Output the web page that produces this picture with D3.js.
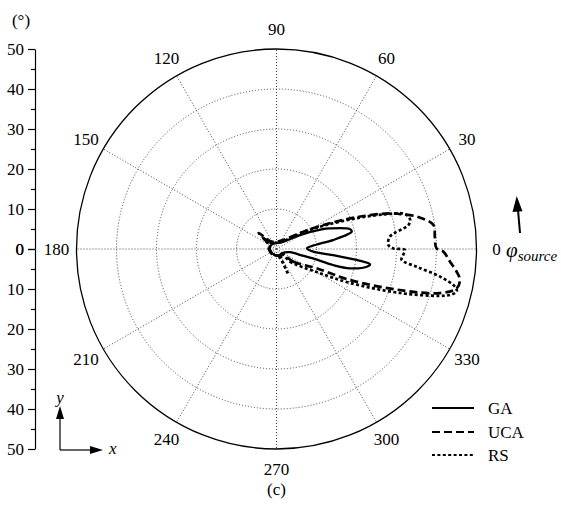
<!DOCTYPE html>
<html>
<head>
<meta charset="utf-8">
<script src="https://cdn.jsdelivr.net/npm/d3@7"></script>
<style>
  html, body { margin: 0; padding: 0; background: #fff; }
  svg { display: block; }
  svg text { font-family: "Liberation Serif", "Times New Roman", serif; fill: #000; }
</style>
</head>
<body>
<svg id="chart" width="561" height="506"></svg>
<script>
// Polar pattern: angle phi in degrees (counter-clockwise from the source direction), radius in degrees
const gaPhi = [-40, -13, -14, -14.5, -15.8, -14.7, -11.1, -9.3, -7.8, -6.1, -4.2, 1.3, 5.9, 9, 13, 15.2, 21.1, 23.5, 30.8, 43, 70, 110, 150, 190, 230, 270, 300];
const gaR   = [1.7, 3.5, 6, 9.4, 14.7, 19, 23, 23.7, 20.2, 14.2, 9.2, 7.6, 9.7, 14.3, 19.3, 19, 14.3, 12.3, 6.8, 2.9, 1.6, 1.5, 1.7, 1.6, 1.5, 1.6, 1.7];

const ucaPhi = [-41, -37, -25.6, -22.9, -18.4, -15.1, -12.3, -9.6, -7.2, -4.2, -0.9, 0.25, 4.4, 8.7, 13, 15.8, 17.5, 21.6, 27.1, 32.8, 53, 80, 110, 128, 138, 148, 180, 215, 250, 285];
const ucaR   = [2.3, 5.3, 11.1, 19.9, 32.5, 42.3, 46.1, 46.5, 45.4, 43.5, 41.7, 40, 39.7, 39.7, 36, 32.1, 29.7, 21.6, 13.2, 8, 2.8, 1.9, 1.9, 2.5, 6, 2.5, 1.9, 1.7, 1.8, 1.7];

const rsPhi = [-40, -43, -29.8, -24.8, -19.6, -16, -14.8, -13.3, -11.9, -9.6, -7.2, -5, -2.7, -0.4, 0.3, 2, 6.2, 10.3, 12.3, 15.2, 17.5, 21, 26, 32, 50, 80, 110, 130, 140, 150, 180, 220, 260, 288, 295, 302];
const rsR   = [1.8, 4.6, 11.6, 20.2, 32.8, 42.5, 44.9, 46.3, 45.6, 41.5, 35.3, 31.4, 31.7, 32.1, 29.2, 28, 28.5, 33.5, 34.2, 33.3, 29, 21.5, 13.5, 8, 2.5, 1.6, 1.7, 2, 4.5, 2, 1.7, 1.6, 1.6, 2, 7, 2];

const seriesNames = ["GA", "UCA", "RS"];
const ringValues = [10, 20, 30, 40];
const angleTicks = [0, 30, 60, 90, 120, 150, 180, 210, 240, 270, 300, 330];
const axisMajor = [0, 10, 20, 30, 40, 50];
const axisMinor = [5, 15, 25, 35, 45];

const FONT = "Liberation Serif, Times New Roman, serif";
const svg = d3.select("#chart");
const cx = 276.5, cy = 249, R = 200;
const rMax = 50;
const r = d3.scaleLinear().domain([0, rMax]).range([0, R]);
const rad = d => d * Math.PI / 180;

const plot = svg.append("g").attr("transform", `translate(${cx},${cy})`);

// dotted rings
plot.selectAll("circle.ring").data(ringValues).join("circle")
  .attr("class", "ring")
  .attr("r", d => r(d))
  .attr("fill", "none")
  .attr("stroke", "#444")
  .attr("stroke-width", 1)
  .attr("stroke-dasharray", "1,2");

// dotted spokes
plot.selectAll("line.spoke").data(angleTicks).join("line")
  .attr("class", "spoke")
  .attr("x1", 0).attr("y1", 0)
  .attr("x2", d => r(rMax) * Math.cos(rad(d)))
  .attr("y2", d => -r(rMax) * Math.sin(rad(d)))
  .attr("stroke", "#444")
  .attr("stroke-width", 1)
  .attr("stroke-dasharray", "1,2");

// outer boundary
plot.append("circle").attr("r", r(rMax))
  .attr("fill", "none").attr("stroke", "#000").attr("stroke-width", 1.3);

// angle labels
plot.selectAll("text.ang").data(angleTicks).join("text")
  .attr("class", "ang")
  .attr("x", d => 220 * Math.cos(rad(d)))
  .attr("y", d => -220 * Math.sin(rad(d)))
  .attr("text-anchor", "middle")
  .attr("dominant-baseline", "central")
  .attr("font-family", FONT)
  .attr("font-size", 17)
  .text(d => d);

// curves
const radial = d3.lineRadial()
  .angle(d => rad(90 - d[0]))
  .radius(d => r(d[1]))
  .curve(d3.curveCatmullRomClosed.alpha(0.5));

const series = [
  { name: seriesNames[0], pts: d3.zip(gaPhi, gaR), dash: null, width: 2.3 },
  { name: seriesNames[1], pts: d3.zip(ucaPhi, ucaR), dash: "8,4", width: 2.7 },
  { name: seriesNames[2], pts: d3.zip(rsPhi, rsR), dash: "3,2.4", width: 2.7 }
];

plot.selectAll("path.series").data(series).join("path")
  .attr("class", "series")
  .attr("d", d => radial(d.pts))
  .attr("fill", "none")
  .attr("stroke", "#000")
  .attr("stroke-width", d => d.width)
  .attr("stroke-dasharray", d => d.dash)
  .attr("stroke-linejoin", "round");

// left elevation axis (0 at centre, 50 at both ends)
const yTop = d3.scaleLinear().domain([0, rMax]).range([cy, cy - R]);
const yBot = d3.scaleLinear().domain([0, rMax]).range([cy, cy + R]);
const axX = 35;
[yTop, yBot].forEach(sc => {
  svg.append("g").attr("transform", `translate(${axX},0)`)
    .call(d3.axisLeft(sc).tickValues(axisMajor).tickSize(7).tickSizeOuter(0).tickPadding(4))
    .attr("font-family", FONT)
    .attr("font-size", 17)
    .call(g => g.selectAll("text").attr("font-size", 17).attr("font-family", FONT).attr("fill", "#000"))
    .call(g => g.selectAll("line, path").attr("stroke", "#000").attr("stroke-width", 1.2));
  svg.append("g").attr("transform", `translate(${axX},0)`)
    .call(d3.axisLeft(sc).tickValues(axisMinor).tickSize(4).tickSizeOuter(0).tickFormat(""))
    .call(g => g.select("path").remove())
    .call(g => g.selectAll("line").attr("stroke", "#000").attr("stroke-width", 1.2));
});

svg.append("text").attr("x", 21).attr("y", 26)
  .attr("text-anchor", "middle").attr("font-family", FONT).attr("font-size", 17).text("(°)");

// source direction arrow and label
svg.append("line").attr("x1", 520).attr("y1", 233).attr("x2", 518).attr("y2", 210)
  .attr("stroke", "#000").attr("stroke-width", 2);
svg.append("path").attr("d", "M516.7,196 L512.5,212 L522.5,211.2 Z").attr("fill", "#000");

const src = svg.append("text").attr("x", 506).attr("y", 257)
  .attr("font-family", FONT).attr("font-style", "italic");
src.append("tspan").attr("font-size", 21).text("φ");
src.append("tspan").attr("font-size", 15).attr("dy", 4).text("source");

// x / y orientation marker
const ox = 60, oy = 450;
svg.append("line").attr("x1", ox).attr("y1", oy).attr("x2", ox).attr("y2", 418)
  .attr("stroke", "#000").attr("stroke-width", 1.2);
svg.append("path").attr("d", `M${ox},406 L${ox - 4},419 L${ox + 4},419 Z`).attr("fill", "#000");
svg.append("line").attr("x1", ox).attr("y1", oy).attr("x2", 92).attr("y2", oy)
  .attr("stroke", "#000").attr("stroke-width", 1.2);
svg.append("path").attr("d", `M103,${oy} L90,${oy - 4} L90,${oy + 4} Z`).attr("fill", "#000");
svg.append("text").attr("x", 60).attr("y", 403).attr("text-anchor", "middle")
  .attr("font-family", FONT).attr("font-style", "italic").attr("font-size", 17).text("y");
svg.append("text").attr("x", 109).attr("y", 454)
  .attr("font-family", FONT).attr("font-style", "italic").attr("font-size", 17).text("x");

// legend
const legend = svg.append("g");
const legY = [408, 432, 455];
series.forEach((s, i) => {
  legend.append("line")
    .attr("x1", 432).attr("x2", 474).attr("y1", legY[i]).attr("y2", legY[i])
    .attr("stroke", "#000").attr("stroke-width", s.width - 0.5)
    .attr("stroke-dasharray", s.dash);
  legend.append("text").attr("x", 488).attr("y", legY[i])
    .attr("dominant-baseline", "central").attr("font-family", FONT).attr("font-size", 17).text(s.name);
});

// panel caption
svg.append("text").attr("x", cx).attr("y", 495).attr("text-anchor", "middle")
  .attr("font-family", FONT).attr("font-size", 17).text("(c)");
</script>
</body>
</html>
